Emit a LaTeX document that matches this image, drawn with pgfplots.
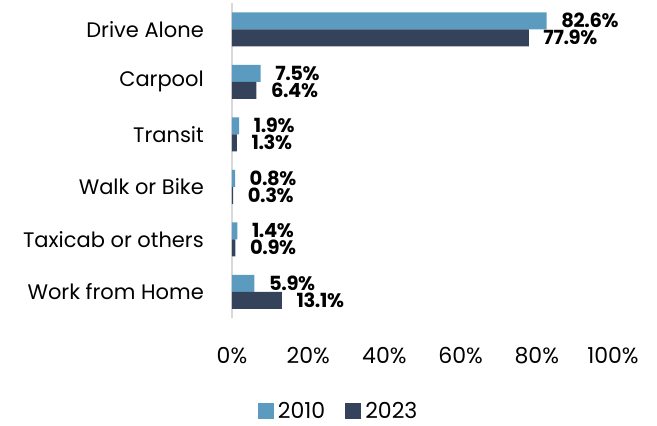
\documentclass[border=0pt]{standalone}
\usepackage{fontspec}
\setmainfont{Poppins}
\newfontfamily\valfont[LetterSpace=-2]{Poppins}
\usepackage{pgfplots}
\pgfplotsset{compat=1.18}
\definecolor{c2010}{HTML}{5B9BBF}
\definecolor{c2023}{HTML}{34435A}
\begin{document}
\fontsize{21}{25}\selectfont
\begin{tikzpicture}
\path[use as bounding box] (-232pt,-108pt) rectangle (425pt,318pt);
\begin{axis}[
  at={(0,0)}, anchor=south west,
  scale only axis, width=381pt, height=315pt,
  xbar, bar width=17pt,
  xmin=0, xmax=100,
  ymin=-0.5, ymax=5.5, y dir=reverse,
  ytick={0,1,2,3,4,5},
  yticklabels={Drive Alone,Carpool,Transit,Walk or Bike,Taxicab or others,Work from Home},
  xtick={0,20,40,60,80,100},
  xticklabels={0\%,20\%,40\%,60\%,80\%,100\%},
  /pgf/number format/assume math mode=true,
  major tick length=0pt,
  axis y line*=left, axis x line*=bottom,
  x axis line style={draw=none},
  y axis line style={draw=black!15, line width=1.5pt, -},
  xticklabel style={yshift=-22pt, font=\fontsize{22}{26}\selectfont},
  yticklabel style={xshift=-21pt, font=\fontsize{21}{25}\selectfont},
  nodes near coords={\pgfmathprintnumber[fixed,precision=1,fixed zerofill]{\pgfplotspointmeta}\%},
  nodes near coords style={anchor=west, xshift=14pt, inner sep=0.5pt, font=\fontsize{19.5}{22}\selectfont\valfont\bfseries, text=black},
  legend style={at={(axis description cs:0.28,-0.298)}, anchor=center, draw=none,
    legend columns=2, font=\fontsize{22}{26}\selectfont,
    /tikz/every odd column/.append style={column sep=2pt},
    /tikz/every even column/.append style={column sep=18pt}},
  legend image code/.code={\fill[#1] (0pt,-7.5pt) rectangle (16pt,8.5pt);},
]
\addplot[fill=c2010, draw=none, bar shift=8.5pt] coordinates {(82.6,0) (7.5,1) (1.9,2) (0.8,3) (1.4,4) (5.9,5)};
\addplot[fill=c2023, draw=none, bar shift=-8.5pt] coordinates {(77.9,0) (6.4,1) (1.3,2) (0.3,3) (0.9,4) (13.1,5)};
\legend{2010,2023}
\end{axis}
\end{tikzpicture}
\end{document}
